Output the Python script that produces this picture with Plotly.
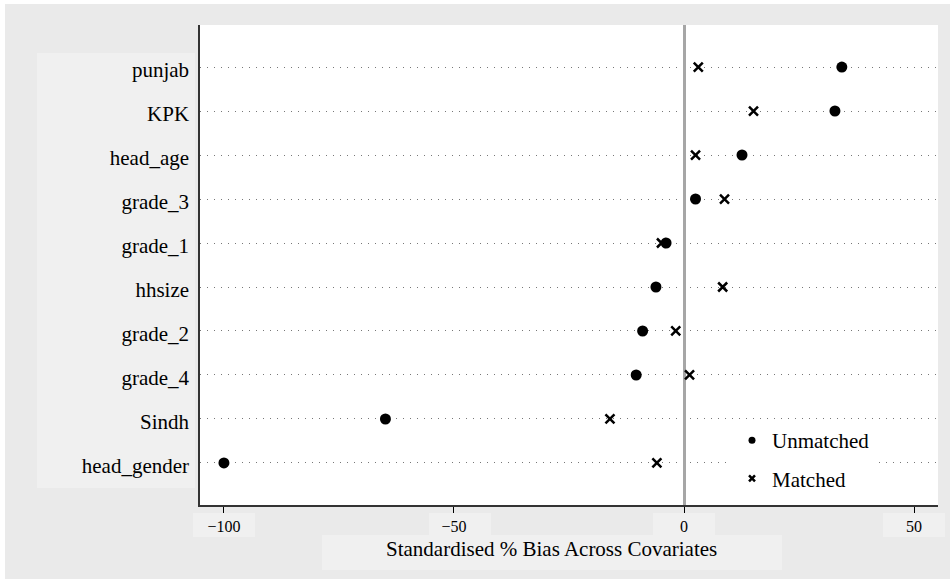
import plotly.graph_objects as go

# ---- data ----
covariates = ["punjab", "KPK", "head_age", "grade_3", "grade_1",
              "hhsize", "grade_2", "grade_4", "Sindh", "head_gender"]
unmatched = [34.3, 32.8, 12.6, 2.5, -3.9, -6.1, -9.0, -10.4, -64.9, -100.0]
matched = [3.1, 15.1, 2.5, 8.8, -4.9, 8.4, -1.8, 1.2, -16.1, -5.9]
x_ticks = [-100, -50, 0, 50]
x_title = "Standardised % Bias Across Covariates"

# ---- layout geometry (pixels) ----
W, H = 950, 579
L, R, T, B = 200, 12, 25, 74
PW, PH = W - L - R, H - T - B


def px(x):
    return (x - L) / PW


def py(y):
    return (H - B - y) / PH


FONT = "Liberation Serif"
OUTER = "#eaeaea"
INNER = "#f0f0f0"

fig = go.Figure()
fig.add_trace(go.Scatter(
    x=unmatched, y=covariates, mode="markers", name="Unmatched",
    marker=dict(symbol="circle", size=11, color="black"), showlegend=False))
fig.add_trace(go.Scatter(
    x=matched, y=covariates, mode="markers", name="Matched",
    marker=dict(symbol="x-thin", size=9, color="black",
                line=dict(width=2.5, color="black")), showlegend=False))
# legend entries (smaller symbols as in the reference)
fig.add_trace(go.Scatter(
    x=[None], y=[None], mode="markers", name="Unmatched", legendgroup="u",
    marker=dict(symbol="circle", size=7, color="black")))
fig.add_trace(go.Scatter(
    x=[None], y=[None], mode="markers", name="Matched", legendgroup="m",
    marker=dict(symbol="x-thin", size=6, color="black",
                line=dict(width=2.5, color="black"))))

shapes = [
    # white strips at the top and left edge of the page
    dict(type="rect", xref="paper", yref="paper", layer="below",
         x0=px(-5), x1=px(W + 5), y0=py(-5), y1=py(4),
         fillcolor="white", line=dict(width=0)),
    dict(type="rect", xref="paper", yref="paper", layer="below",
         x0=px(-5), x1=px(5), y0=py(-5), y1=py(H + 5),
         fillcolor="white", line=dict(width=0)),
    dict(type="rect", xref="paper", yref="paper", layer="below",
         x0=px(37), x1=px(195), y0=py(53), y1=py(488),
         fillcolor=INNER, line=dict(width=0)),
    dict(type="rect", xref="paper", yref="paper", layer="below",
         x0=px(322), x1=px(782), y0=py(535), y1=py(570),
         fillcolor=INNER, line=dict(width=0)),
]
for cx in [224, 460, 684, 914]:
    shapes.append(dict(type="rect", xref="paper", yref="paper", layer="below",
                       x0=px(cx - 31), x1=px(cx + 31), y0=py(513), y1=py(537),
                       fillcolor=INNER, line=dict(width=0)))

fig.update_layout(
    width=W, height=H,
    margin=dict(l=L, r=R, t=T, b=B, pad=0),
    paper_bgcolor=OUTER, plot_bgcolor="white",
    font=dict(family=FONT, size=21, color="black"),
    shapes=shapes,
    showlegend=True,
    legend=dict(x=px(732), y=py(420), xanchor="left", yanchor="top",
                bgcolor="white", borderwidth=0, tracegroupgap=8,
                font=dict(family=FONT, size=21, color="black"),
                itemwidth=30),
    annotations=[dict(text=x_title, xref="paper", yref="paper",
                      x=px(551), y=py(549), xanchor="center", yanchor="middle",
                      showarrow=False, font=dict(family=FONT, size=21, color="black"))],
)

fig.update_xaxes(
    range=[-105.2, 55.2], tickvals=x_ticks, ticks="outside", ticklen=6,
    tickwidth=1.2, tickcolor="black", showgrid=False,
    zeroline=True, zerolinecolor="#a6a6a6", zerolinewidth=2.5,
    showline=True, linecolor="#333333", linewidth=1.5,
    tickfont=dict(family=FONT, size=16, color="black"),
)
fig.update_yaxes(
    type="category", categoryorder="array", categoryarray=covariates,
    range=[9.955, -0.955], ticks="", showgrid=True, gridcolor="#777777",
    gridwidth=1, griddash="1px,6px",
    showline=True, linecolor="#333333", linewidth=1.5,
    ticklabelstandoff=5, ticklabelshift=-3,
    tickfont=dict(family=FONT, size=21, color="black"),
)

fig.write_html("out.html")
